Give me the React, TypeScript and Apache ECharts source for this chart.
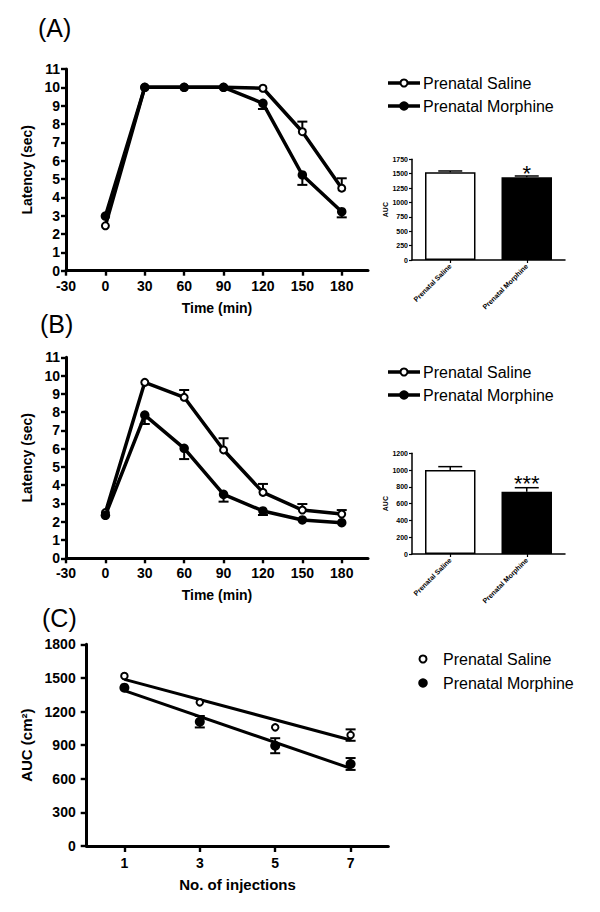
import React, { useEffect, useRef } from "react";
import * as echarts from "echarts";

const FONT = '"Liberation Sans", Arial, Helvetica, sans-serif';

// ---------- Data ----------
const timePoints = [0, 30, 60, 90, 120, 150, 180];
const timeTicks = [-30, 0, 30, 60, 90, 120, 150, 180];
const legendNames = ["Prenatal Saline", "Prenatal Morphine"];

// Panel A (latency, sec)
const aSaline = [2.45, 10, 10, 10, 9.95, 7.58, 4.5];
const aSalineSem = [0, 0, 0, 0, 0, 0.55, 0.54];
const aMorphine = [2.98, 10, 10, 10, 9.13, 5.22, 3.22];
const aMorphineSem = [0, 0, 0, 0, 0.31, 0.54, 0.31];

// Panel B (latency, sec)
const bSaline = [2.5, 9.63, 8.81, 5.93, 3.61, 2.64, 2.42];
const bSalineSem = [0, 0, 0.4, 0.64, 0.46, 0.33, 0.22];
const bMorphine = [2.35, 7.84, 6.02, 3.5, 2.59, 2.1, 1.95];
const bMorphineSem = [0, 0.49, 0.59, 0.4, 0.22, 0, 0];

// AUC insets
const barCategories = ["Prenatal Saline", "Prenatal Morphine"];
const aAuc = [1524, 1437];
const aAucSem = [23, 23];
const aSig = ["", "*"];
const bAuc = [1001, 742];
const bAucSem = [40, 48];
const bSig = ["", "***"];

// Panel C
const injections = [1, 3, 5, 7];
const injectionTicks = [1, 3, 5, 7];
const cSaline = [1517, 1282, 1059, 990];
const cSalineSem = [0, 0, 0, 51];
const cMorphine = [1413, 1109, 895, 732];
const cMorphineSem = [0, 51, 67, 53];
const fitX = [1, 7];
const cSalineFit = [1487, 946];
const cMorphineFit = [1386, 693];

// ---------- helpers ----------
const pairs = (xs: number[], ys: number[]) => xs.map((x, i) => [x, ys[i]]);
const plain = (v: number) => String(v);

type Dir = "up" | "down" | "both";
const errData = (xs: number[], ys: number[], sem: number[], dir: Dir) =>
  xs
    .map((x, i) => {
      const v = ys[i];
      const s = sem[i];
      if (!s) return null;
      if (dir === "up") return [x, v, v + s, 0, 1];
      if (dir === "down") return [x, v - s, v, 1, 0];
      return [x, v - s, v + s, 1, 1];
    })
    .filter((d) => d !== null);

const errRender = (capW: number, lw: number) => (params: any, api: any) => {
  const x = api.value(0);
  const pLo = api.coord([x, api.value(1)]);
  const pHi = api.coord([x, api.value(2)]);
  const style = { stroke: "#000", lineWidth: lw };
  const children: any[] = [
    { type: "line", shape: { x1: pLo[0], y1: pLo[1], x2: pHi[0], y2: pHi[1] }, style },
  ];
  if (api.value(3))
    children.push({ type: "line", shape: { x1: pLo[0] - capW / 2, y1: pLo[1], x2: pLo[0] + capW / 2, y2: pLo[1] }, style });
  if (api.value(4))
    children.push({ type: "line", shape: { x1: pHi[0] - capW / 2, y1: pHi[1], x2: pHi[0] + capW / 2, y2: pHi[1] }, style });
  return { type: "group", children };
};

const axisBase = (w: number, tickLen: number, fs: number, margin: number) => ({
  axisLine: { show: true, onZero: false, lineStyle: { color: "#000", width: w } },
  axisTick: { show: true, length: tickLen, lineStyle: { color: "#000", width: Math.max(1, w * 0.8) } },
  axisLabel: { color: "#000", fontFamily: FONT, fontWeight: "bold", fontSize: fs, margin, formatter: plain },
  splitLine: { show: false },
});

const nameStyle = (fs: number) => ({ color: "#000", fontFamily: FONT, fontWeight: "bold", fontSize: fs });

const lineTimeX = (grid: number) => {
  const b = axisBase(3, 5, 14, 8);
  return {
    type: "value",
    gridIndex: grid,
    min: -30,
    max: 200,
    interval: 30,
    ...b,
    axisTick: { ...b.axisTick, customValues: timeTicks },
    axisLabel: { ...b.axisLabel, customValues: timeTicks },
    name: "Time (min)",
    nameLocation: "middle",
    nameGap: 30,
    nameTextStyle: nameStyle(14),
  };
};

const latencyY = (grid: number) => ({
  type: "value",
  gridIndex: grid,
  min: 0,
  max: 11,
  interval: 1,
  ...axisBase(3, 5, 14, 6),
  name: "Latency (sec)",
  nameLocation: "middle",
  nameRotate: 90,
  nameGap: 32,
  nameTextStyle: nameStyle(14),
});

const barX = (grid: number) => {
  const b = axisBase(1.5, 3, 7, 4);
  return {
    type: "category",
    gridIndex: grid,
    data: barCategories,
    ...b,
    axisTick: { ...b.axisTick, alignWithLabel: true },
    axisLabel: { color: "#000", fontFamily: FONT, fontWeight: "bold", fontSize: 7, rotate: 45, margin: 5, interval: 0 },
  };
};

const barY = (grid: number, max: number, interval: number) => ({
  type: "value",
  gridIndex: grid,
  min: 0,
  max,
  interval,
  ...axisBase(1.5, 3, 7, 4),
  name: "AUC",
  nameLocation: "middle",
  nameRotate: 90,
  nameGap: 22,
  nameTextStyle: nameStyle(7),
});

const openLine = (xi: number, ys: number[]) => ({
  type: "line",
  xAxisIndex: xi,
  yAxisIndex: xi,
  data: pairs(timePoints, ys),
  symbol: "circle",
  symbolSize: 7,
  showAllSymbol: true,
  lineStyle: { color: "#000", width: 3.5 },
  itemStyle: { color: "#fff", borderColor: "#000", borderWidth: 2, opacity: 1 },
  z: 3,
});

const filledLine = (xi: number, ys: number[]) => ({
  type: "line",
  xAxisIndex: xi,
  yAxisIndex: xi,
  data: pairs(timePoints, ys),
  symbol: "circle",
  symbolSize: 9.5,
  showAllSymbol: true,
  lineStyle: { color: "#000", width: 3.5 },
  itemStyle: { color: "#000", borderColor: "#000", borderWidth: 0, opacity: 1 },
  z: 4,
});

const errSeries = (xi: number, data: any[], capW: number, lw: number, z = 2) => ({
  type: "custom",
  xAxisIndex: xi,
  yAxisIndex: xi,
  data,
  encode: { x: 0, y: [1, 2] },
  renderItem: errRender(capW, lw),
  z,
  silent: true,
});

const barSeries = (xi: number, vals: number[], sig: string[], starSize: number, dist: number) => ({
  type: "bar",
  xAxisIndex: xi,
  yAxisIndex: xi,
  barWidth: "66%",
  data: vals.map((v, i) => ({
    value: v,
    itemStyle: i === 0 ? { color: "#fff", borderColor: "#000", borderWidth: 1.5 } : { color: "#000", borderColor: "#000", borderWidth: 1.5 },
    label: {
      show: sig[i] !== "",
      position: "top",
      distance: dist,
      formatter: sig[i],
      color: "#000",
      fontFamily: FONT,
      fontSize: starSize,
    },
  })),
  z: 2,
});

const legendGraphic = (x: number, y1: number, y2: number, withLine: boolean, textX: number) => {
  const els: any[] = [];
  const ys = [y1, y2];
  ys.forEach((y, i) => {
    if (withLine)
      els.push({ type: "line", shape: { x1: x, y1: y, x2: x + 32, y2: y }, style: { stroke: "#000", lineWidth: 3.5 } });
    const cx = withLine ? x + 16 : x;
    els.push({
      type: "circle",
      shape: { cx, cy: y, r: i === 0 ? 3.5 : 4.75 },
      style: i === 0 ? { fill: "#fff", stroke: "#000", lineWidth: 2 } : { fill: "#000", stroke: "#000", lineWidth: 0 },
      z: 10,
    });
    els.push({
      type: "text",
      x: textX,
      y,
      style: { text: legendNames[i], fill: "#000", fontFamily: FONT, fontSize: 16, align: "left", verticalAlign: "middle" },
      z: 10,
    });
  });
  return els;
};

const panelLabel = (t: string, x: number, y: number) => ({
  type: "text",
  x,
  y,
  style: { text: t, fill: "#000", fontFamily: FONT, fontSize: 25, align: "left", verticalAlign: "middle" },
});

export default function App() {
  const ref = useRef<HTMLDivElement>(null);
  useEffect(() => {
    if (!ref.current) return;
    const chart = echarts.init(ref.current, undefined, { renderer: "svg" });

    const cX = (() => {
      const b = axisBase(3, 6, 14, 10);
      return {
        type: "value",
        gridIndex: 4,
        min: 0,
        max: 8,
        interval: 1,
        ...b,
        axisTick: { ...b.axisTick, customValues: injectionTicks },
        axisLabel: { ...b.axisLabel, customValues: injectionTicks },
        name: "No. of injections",
        nameLocation: "middle",
        nameGap: 31,
        nameTextStyle: nameStyle(15),
      };
    })();

    const cY = {
      type: "value",
      gridIndex: 4,
      min: 0,
      max: 1800,
      interval: 300,
      ...axisBase(3, 6, 14, 11),
      name: "AUC (cm²)",
      nameLocation: "middle",
      nameRotate: 90,
      nameGap: 41,
      nameTextStyle: nameStyle(15),
    };

    const option: any = {
      animation: false,
      backgroundColor: "#fff",
      textStyle: { fontFamily: FONT },
      grid: [
        { left: 66, top: 69, width: 302, height: 201.7 },
        { left: 412, top: 159.3, width: 153, height: 100.7 },
        { left: 66, top: 357.3, width: 302, height: 201 },
        { left: 412, top: 453.3, width: 153, height: 100.7 },
        { left: 86.7, top: 644.3, width: 301.6, height: 201.7 },
      ],
      xAxis: [lineTimeX(0), barX(1), lineTimeX(2), barX(3), cX],
      yAxis: [latencyY(0), barY(1, 1750, 250), latencyY(2), barY(3, 1200, 200), cY],
      series: [
        // Panel A
        errSeries(0, errData(timePoints, aSaline, aSalineSem, "up"), 10, 2),
        errSeries(0, errData(timePoints, aMorphine, aMorphineSem, "down"), 10, 2),
        openLine(0, aSaline),
        filledLine(0, aMorphine),
        // Panel A inset
        barSeries(1, aAuc, aSig, 22, -7),
        errSeries(1, errData([0, 1], aAuc, aAucSem, "up"), 24, 1.5, 1),
        // Panel B
        errSeries(2, errData(timePoints, bSaline, bSalineSem, "up"), 10, 2),
        errSeries(2, errData(timePoints, bMorphine, bMorphineSem, "down"), 10, 2),
        openLine(2, bSaline),
        filledLine(2, bMorphine),
        // Panel B inset
        barSeries(3, bAuc, bSig, 22, -3),
        errSeries(3, errData([0, 1], bAuc, bAucSem, "up"), 24, 1.5, 1),
        // Panel C
        {
          type: "line",
          xAxisIndex: 4,
          yAxisIndex: 4,
          data: pairs(fitX, cSalineFit),
          symbol: "none",
          lineStyle: { color: "#000", width: 3 },
          z: 2,
        },
        {
          type: "line",
          xAxisIndex: 4,
          yAxisIndex: 4,
          data: pairs(fitX, cMorphineFit),
          symbol: "none",
          lineStyle: { color: "#000", width: 3 },
          z: 2,
        },
        errSeries(4, errData(injections, cSaline, cSalineSem, "both"), 10, 2, 3),
        errSeries(4, errData(injections, cMorphine, cMorphineSem, "both"), 10, 2, 3),
        {
          type: "scatter",
          xAxisIndex: 4,
          yAxisIndex: 4,
          data: pairs(injections, cSaline),
          symbol: "circle",
          symbolSize: 6.5,
          itemStyle: { color: "#fff", borderColor: "#000", borderWidth: 2, opacity: 1 },
          z: 4,
        },
        {
          type: "scatter",
          xAxisIndex: 4,
          yAxisIndex: 4,
          data: pairs(injections, cMorphine),
          symbol: "circle",
          symbolSize: 10,
          itemStyle: { color: "#000", opacity: 1 },
          z: 4,
        },
      ],
      graphic: [
        panelLabel("(A)", 38, 28),
        panelLabel("(B)", 40, 324),
        panelLabel("(C)", 42, 618),
        ...legendGraphic(388, 83, 106, true, 423),
        ...legendGraphic(388, 372, 395, true, 423),
        ...legendGraphic(423, 659, 683, false, 443),
      ],
    };
    chart.setOption(option);
    return () => chart.dispose();
  }, []);

  return (
    <div
      ref={ref}
      style={{ position: "absolute", left: 0, top: 0, width: 600, height: 912, background: "#fff" }}
    />
  );
}
